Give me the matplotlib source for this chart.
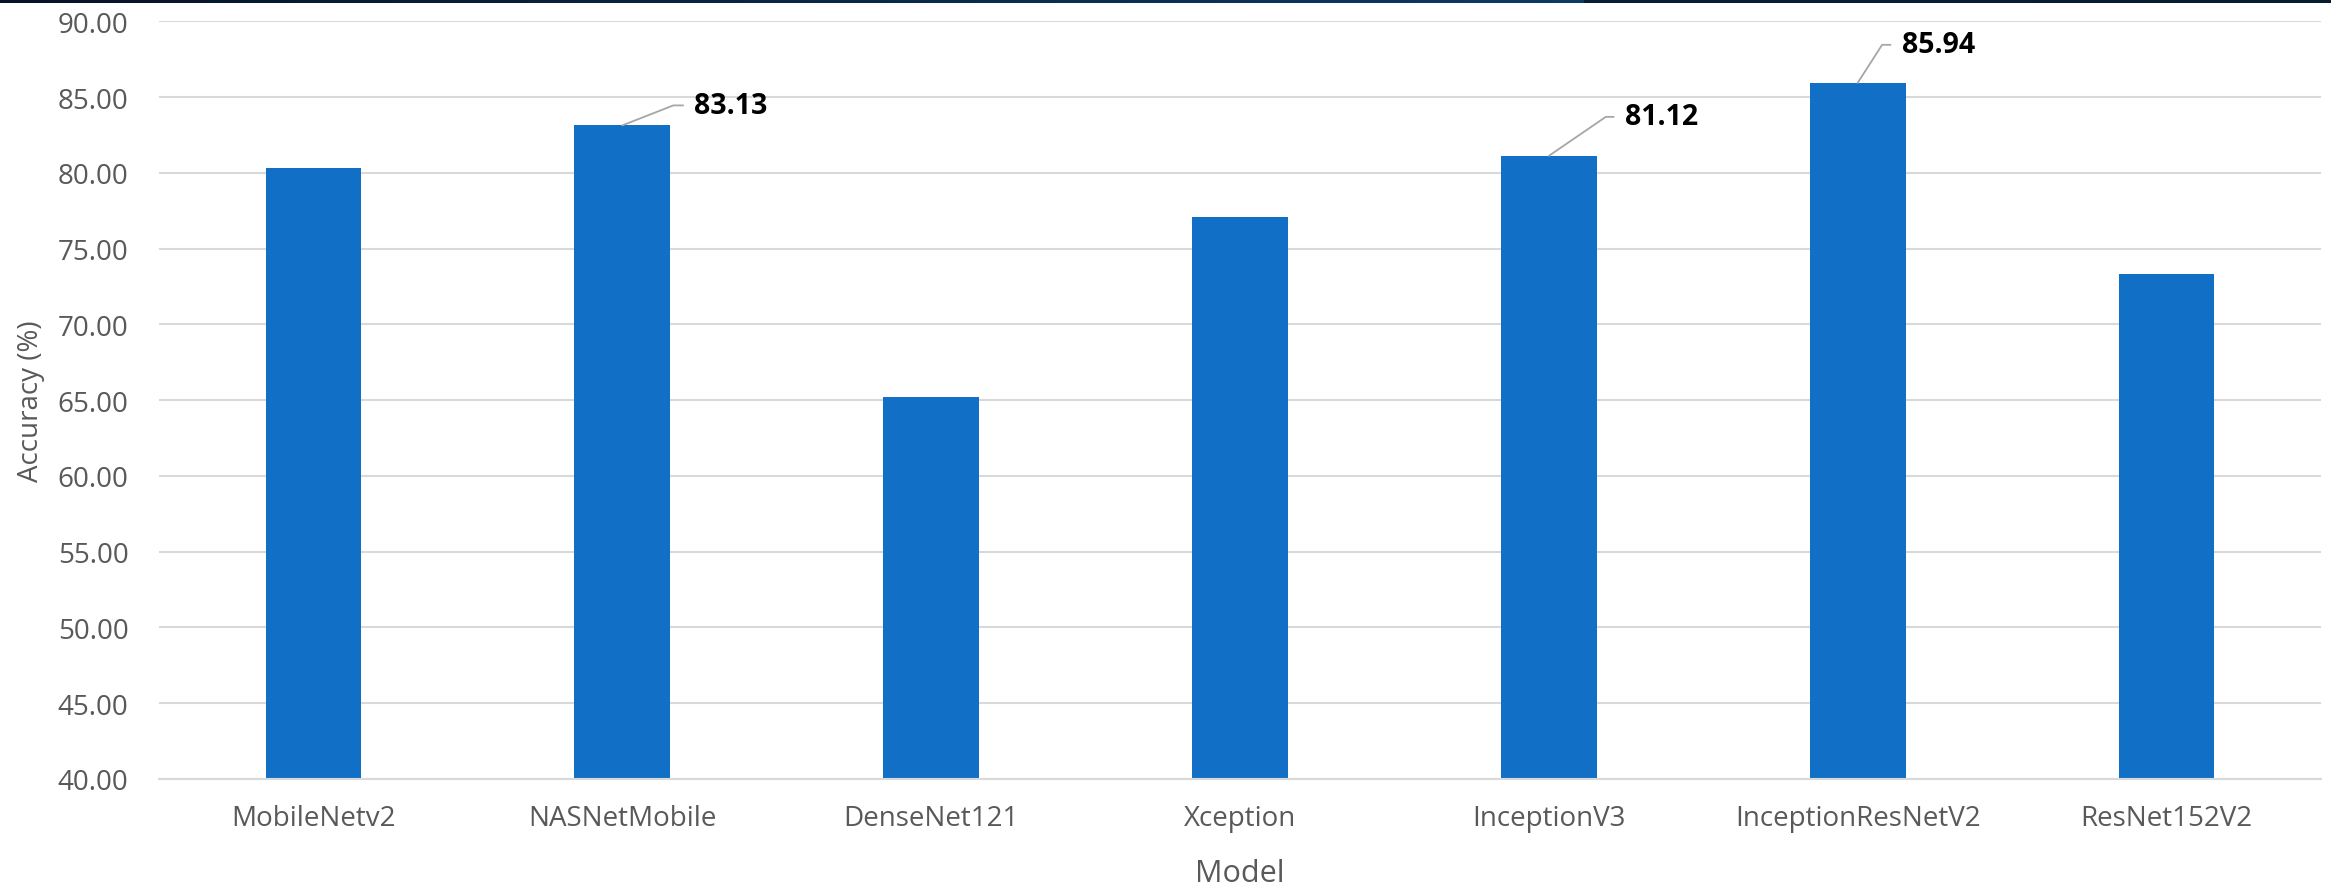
import matplotlib
matplotlib.use("Agg")
import matplotlib.pyplot as plt
import numpy as np
from matplotlib.colors import LinearSegmentedColormap

models = ["MobileNetv2", "NASNetMobile", "DenseNet121", "Xception",
          "InceptionV3", "InceptionResNetV2", "ResNet152V2"]
accuracy = [80.30, 83.13, 65.20, 77.10, 81.12, 85.94, 73.30]
yticks = [40, 45, 50, 55, 60, 65, 70, 75, 80, 85, 90]
# labelled bars: index -> (dx px, dy px, leader angle deg)
labelled = {1: (72, 20, 21.4), 4: (76, 39, 34.4), 5: (44, 38, 57.3)}

plt.rcParams['font.family'] = ['Open Sans', 'DejaVu Sans']
GRAY = '#595959'
BLUE = '#1170C6'
W, H, DPI = 2331, 887, 100
fig = plt.figure(figsize=(W / DPI, H / DPI), dpi=DPI)

ax = fig.add_axes([159 / W, 1 - 780 / H, (2321 - 159) / W, (780 - 22.3) / H])
x = np.arange(len(models))
ax.bar(x, accuracy, width=0.31, color=BLUE, zorder=3)
ax.set_xlim(-0.5, len(models) - 0.5)
ax.set_ylim(40, 90)
ax.set_yticks(yticks)
ax.set_yticklabels([f"{v:.2f}" for v in yticks])
ax.set_xticks(x)
ax.set_xticklabels(models)
ax.tick_params(axis='both', length=0, labelsize=20, colors=GRAY)
ax.tick_params(axis='y', pad=22)
ax.tick_params(axis='x', pad=18)
ax.grid(axis='y', color='#d9d9d9', linewidth=1.5, zorder=0)
for s in ['top', 'right', 'left']:
    ax.spines[s].set_visible(False)
ax.spines['bottom'].set_color('#d9d9d9')
ax.spines['bottom'].set_linewidth(1.5)
ax.spines['bottom'].set_zorder(4)
ax.set_xlabel("Model", fontsize=22, color=GRAY, labelpad=19)
ax.set_ylabel("Accuracy (%)", fontsize=20, color=GRAY, labelpad=9)

k = 72 / DPI
for i, (dx, dy, ang) in labelled.items():
    ax.annotate(f"{accuracy[i]:.2f}", xy=(x[i], accuracy[i]),
                xytext=(dx * k, dy * k), textcoords='offset points',
                ha='left', va='center', fontsize=20.5, fontweight='bold',
                color='black', zorder=5,
                arrowprops=dict(arrowstyle='-', color='#a6a6a6', lw=1.3,
                                relpos=(0, 0.5), shrinkA=6, shrinkB=0,
                                connectionstyle=f"angle,angleA=0,angleB={ang},rad=0"))

# top decorative band
band = fig.add_axes([0, 1 - 4 / H, 1, 4 / H])
cmap = LinearSegmentedColormap.from_list('band', [(0, '#061325'), (0.68, '#0d3a66'),
                                                  (0.681, '#0a1f38'), (1, '#081a30')])
band.imshow(np.linspace(0, 1, 512)[None, :], aspect='auto', cmap=cmap)
band.set_axis_off()

fig.savefig("out.png", dpi=DPI)
